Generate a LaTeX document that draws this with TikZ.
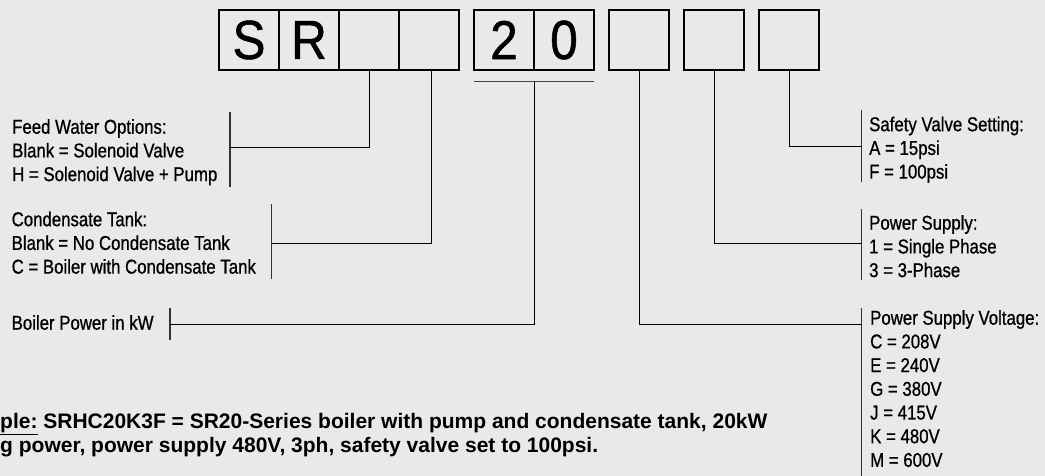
\documentclass[tikz,border=0pt]{standalone}
\usepackage{fontspec}
\setmainfont{Liberation Sans}
\newfontfamily\narrowsf[FakeStretch=0.84, FakeBold=0.8]{Liberation Sans}
\newfontfamily\cellsf[FakeStretch=0.9, FakeBold=1]{Liberation Sans}
\usetikzlibrary{positioning}

\definecolor{bgcol}{RGB}{233,233,233}
\definecolor{barcol}{RGB}{50,50,50}
\definecolor{rulecol}{RGB}{70,70,70}

\tikzset{
  cell/.style={draw, line width=1.2pt, minimum width=60pt, minimum height=60pt,
    inner sep=0pt, outer sep=0pt, font=\cellsf\fontsize{55}{55}\selectfont},
  keytext/.style={anchor=north west, inner sep=0pt, align=left,
    font=\narrowsf\fontsize{20}{23.7}\selectfont},
  wire/.style={line width=1pt},
  bar/.style={line width=1.3pt, draw=barcol},
}

\begin{document}
\begin{tikzpicture}[x=1pt,y=-1pt]
\fill[bgcol] (0,0) rectangle (1045,476);
\useasboundingbox (0,0) rectangle (1045,476);

% model code boxes
\node[cell] (s1) at (249,40) {S};
\node[cell, right=0pt of s1] (s2) {R};
\node[cell, right=0pt of s2] (s3) {};
\node[cell, right=0pt of s3] (s4) {};
\node[cell, right=15pt of s4] (kw1) {2};
\node[cell, right=0pt of kw1] (kw2) {0};
\node[cell, right=15pt of kw2] (volt) {};
\node[cell, right=15pt of volt] (phase) {};
\node[cell, right=15pt of phase] (valve) {};

% bracket under the kW digits
\draw[line width=1.6pt, rulecol] ([yshift=-11.7pt]kw1.south west) -- ([yshift=-11.7pt]kw2.south east);
\coordinate (kwj) at ([yshift=-11.7pt]kw1.south east);

% option texts
\node[keytext] (feed) at (12,119) {Feed Water Options:\\Blank = Solenoid Valve\\H = Solenoid Valve + Pump};
\node[keytext] (cond) at (11.5,211.5) {Condensate Tank:\\Blank = No Condensate Tank\\C = Boiler with Condensate Tank};
\node[keytext] (power) at (11.5,315) {Boiler Power in kW};
\node[keytext] (safety) at (869,116.5) {Safety Valve Setting:\\A = 15psi\\F = 100psi};
\node[keytext] (supply) at (869,215) {Power Supply:\\1 = Single Phase\\3 = 3-Phase};
\node[keytext] (voltage) at (870,310) {Power Supply Voltage:\\C = 208V\\E = 240V\\G = 380V\\J = 415V\\K = 480V\\M = 600V};

% bars beside the texts
\draw[bar] (230,111.7) -- (230,187.3);
\draw[bar] (271.7,204) -- (271.7,279.3);
\draw[bar] (170,308.3) -- (170,340);
\draw[bar] (861.7,110) -- (861.7,181.7);
\draw[bar] (861.7,209.3) -- (861.7,280);
\draw[bar] (861.7,308.3) -- (861.7,480);

\coordinate (feedj) at (230,147.3);
\coordinate (condj) at (271.7,243.3);
\coordinate (powerj) at (170,324.3);
\coordinate (safetyj) at (861.7,146.7);
\coordinate (supplyj) at (861.7,243.3);
\coordinate (voltagej) at (861.7,324.3);

% leaders
\draw[wire] (s3.south) |- (feedj);
\draw[wire] ([xshift=2.5pt]s4.south) |- (condj);
\draw[wire] (kwj) |- (powerj);
\draw[wire] (valve.south) |- (safetyj);
\draw[wire] (phase.south) |- (supplyj);
\draw[wire] (volt.south) |- (voltagej);

% example
\node[anchor=north west, inner sep=0pt, align=left, font=\bfseries\fontsize{21}{24}\selectfont] (example) at (0,413.2)
  {\underline{ple:} SRHC20K3F = SR20-Series boiler with pump and condensate tank, 20kW\\g power, power supply 480V, 3ph, safety valve set to 100psi.};
\end{tikzpicture}
\end{document}
